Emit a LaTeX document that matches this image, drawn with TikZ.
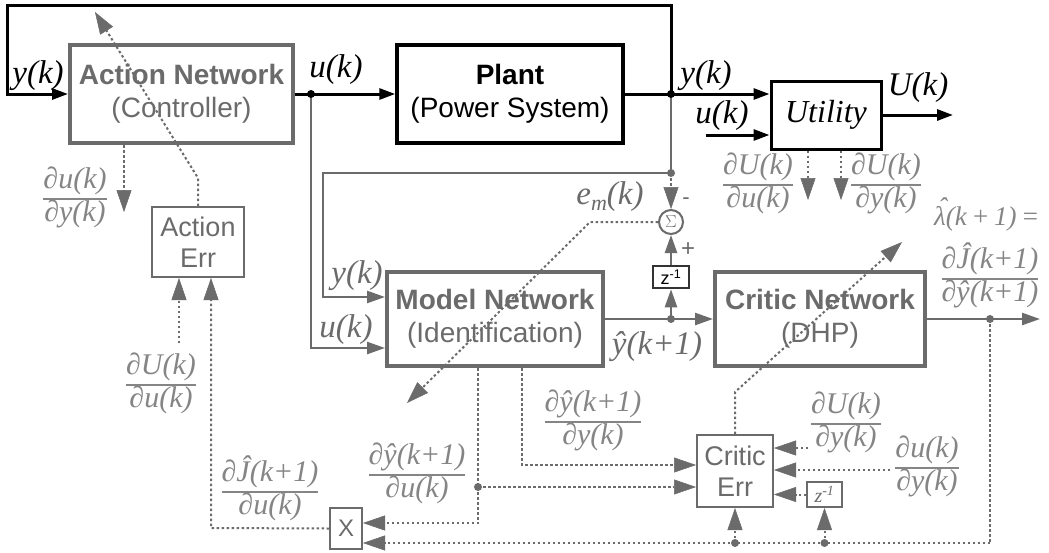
\documentclass[tikz,border=0pt]{standalone}
\usepackage{fontspec}
\setmainfont{Liberation Sans}
\newfontfamily\tms{Liberation Serif}
\usetikzlibrary{arrows.meta}
\definecolor{gt}{gray}{0.42}
\definecolor{gl}{gray}{0.52}
\newcommand{\bigf}{\fontsize{28}{33}\selectfont}
\newcommand{\lab}{\tms\itshape\fontsize{33}{36}\selectfont}
\newcommand{\fr}[2]{{\setlength{\tabcolsep}{0pt}\setlength{\arrayrulewidth}{1.5pt}\renewcommand{\arraystretch}{0.92}\begin{tabular}{c}#1\\\hline #2\end{tabular}}}
\tikzset{
  net/.style={draw=gt, line width=4pt, text=gt, inner sep=0, align=center, font=\bigf},
  blkbox/.style={draw=black, line width=3.5pt, inner sep=0, align=center, font=\bigf},
  errbox/.style={draw=gt, line width=2pt, inner sep=0, align=center, text=gt, font=\fontsize{27}{31}\selectfont},
  bl/.style={draw=black, line width=3pt},
  gline/.style={draw=gt, line width=2.5pt},
  dl/.style={draw=gt, line width=2pt, dash pattern=on 2.5pt off 2.5pt},
  barr/.style={-{Triangle[length=16pt,width=11pt]}},
  garr/.style={-{Triangle[length=18pt,width=12pt]}},
  darr/.style={-{Triangle[length=22pt,width=15pt,line width=0.5pt,fill=gt]}},
  lbl/.style={font=\lab, inner sep=0},
  glbl/.style={lbl, text=gt},
  frl/.style={font=\tms\itshape\fontsize{30}{34}\selectfont, text=gl, inner sep=0},
  gdot/.style={circle, fill=gt, inner sep=0, minimum size=8pt},
  bdot/.style={circle, fill=black, inner sep=0, minimum size=8pt},
}
\begin{document}
\begin{tikzpicture}[x=1pt,y=-1pt]
\useasboundingbox[fill=white] (0,0) rectangle (1049,552);
% boxes
\node[net, minimum width=223, minimum height=98] (act) at (181.5,94) {\textbf{Action Network}\\(Controller)};
\node[blkbox, minimum width=226, minimum height=98] (plant) at (510,94) {\textbf{Plant}\\(Power System)};
\node[draw=black, line width=3pt, minimum width=110, minimum height=68, inner sep=0, font=\tms\itshape\fontsize{32}{36}\selectfont] (ut) at (826,115) {Utility};
\node[net, minimum width=216, minimum height=94] (mod) at (495,319) {\textbf{Model Network}\\(Identification)};
\node[net, minimum width=210, minimum height=94] (crit) at (820,319) {\textbf{Critic Network}\\(DHP)};
\node[errbox, minimum width=92, minimum height=70] (aerr) at (198,242) {Action\\Err};
\node[errbox, minimum width=76, minimum height=72] (cerr) at (735,471) {Critic\\Err};
\node[circle, draw=gt, line width=2pt, minimum size=24pt, inner sep=0, text=gt, font=\fontsize{17}{17}\selectfont] (sum) at (671,222) {$\Sigma$};
\node[draw=black!80, line width=2.5pt, minimum width=36, minimum height=22, inner sep=0, font=\fontsize{18}{18}\selectfont] (z1) at (671,277) {z\textsuperscript{-1}};
\node[draw=gt, line width=2pt, minimum width=35, minimum height=25, inner sep=0, text=gt, font=\tms\itshape\fontsize{20}{20}\selectfont] (z2) at (824.5,494.5) {z\textsuperscript{-1}};
\node[draw=gt, line width=2pt, minimum width=32, minimum height=41, inner sep=0, text=gt, font=\fontsize{24}{24}\selectfont] (X) at (346,528.5) {X};
% coordinates
\coordinate (ju) at (311,94);
\coordinate (jy) at (671,94);
\coordinate (tr) at (671,5);
\coordinate (tl) at (7,5);
\coordinate (lm) at (7,94);
\coordinate (uin) at (706,135);
\coordinate (Uout) at (953,115);
\coordinate (jm) at (671,173);
\coordinate (ymc) at (323,173);
\coordinate (yml) at (323,297);
\coordinate (uml) at (311,348);
\coordinate (jo) at (671,319);
\coordinate (eb) at (590,222);
\coordinate (et) at (407,403);
\coordinate (jc) at (990,319);
\coordinate (cend) at (1040,319);
\coordinate (cb) at (990,543);
\coordinate (b1) at (735,543);
\coordinate (b2) at (824.5,543);
\coordinate (m1) at (478,487);
\coordinate (m1b) at (478,523);
\coordinate (m2) at (522,465);
\coordinate (c1) at (808,448);
\coordinate (c2) at (890,470);
\coordinate (cd1) at (735,392);
\coordinate (cd2) at (902,242);
\coordinate (ad1) at (198,178);
\coordinate (ad2) at (95,12);
\coordinate (adn) at (124,212);
\coordinate (ae1) at (179,343);
\coordinate (ae2) at (211,528);
\coordinate (ud1) at (808,200);
\coordinate (ud2) at (841,200);
% black loop
\draw[bl, barr] (act.east) -- (plant.west);
\draw[bl] (plant.east) -- (jy);
\draw[bl, barr] (jy) -- (jy -| ut.west);
\draw[bl, barr] (jy) -- (tr) -- (tl) -- (lm) -- (act.west);
\draw[bl, barr] (uin) -- (uin -| ut.west);
\draw[bl, barr] (ut.east) -- (Uout);
% gray solid to model
\draw[gline] (jy) -- (jm);
\draw[gline, garr] (jm) -- (ymc) -- (yml) -- (yml -| mod.west);
\draw[gline, garr] (ju) -- (uml) -- (uml -| mod.west);
\draw[gline, garr] (mod.east) -- (crit.west);
\draw[gline, garr] (jo) -- (z1.south);
\draw[gline, garr] (z1.north) -- (sum.south);
\draw[gline, garr] (crit.east) -- (cend);
% dotted
\draw[dl, darr] (jm) -- (sum.north);
\draw[dl, darr] (sum.west) -- (eb) -- (et);
\draw[dl] (jc) -- (cb);
\draw[dl, darr] (cb) -- (cb -| X.east);
\draw[dl, darr] (b1) -- (cerr.south);
\draw[dl, darr] (b2) -- (z2.south);
\draw[dl, darr] (z2.west) -- (z2.west -| cerr.east);
\draw[dl] (mod.south -| m1) -- (m1);
\draw[dl, darr] (m1) -- (m1 -| cerr.west);
\draw[dl, darr] (m1) -- (m1b) -- (m1b -| X.east);
\draw[dl, darr] (mod.south -| m2) -- (m2) -- (m2 -| cerr.west);
\draw[dl, darr] (c1) -- (c1 -| cerr.east);
\draw[dl, darr] (c2) -- (c2 -| cerr.east);
\draw[dl, darr] (cerr.north) -- (cd1) -- (cd2);
\draw[dl, darr] (aerr.north) -- (ad1) -- (ad2);
\draw[dl, darr] (act.south -| adn) -- (adn);
\draw[dl, darr] (ae1) -- (ae1 |- aerr.south);
\draw[dl, darr] (X.west) -- (ae2) -- (ae2 |- aerr.south);
\draw[dl, darr] (ut.south -| ud1) -- (ud1);
\draw[dl, darr] (ut.south -| ud2) -- (ud2);
% dots
\node[bdot] (dju) at (ju) {};
\node[bdot] (djy) at (jy) {};
\node[gdot] (djm) at (jm) {};
\node[gdot] (djo) at (jo) {};
\node[gdot] (djc) at (jc) {};
\node[gdot] (dm1) at (m1) {};
\node[gdot] (db1) at (b1) {};
\node[gdot] (db2) at (b2) {};
% labels
\node[lbl] (lyk1) at (38,76) {y(k)};
\node[lbl] (luk1) at (336,70) {u(k)};
\node[lbl] (lyk2) at (706,76) {y(k)};
\node[lbl] (luk2) at (722,116) {u(k)};
\node[lbl] (lUk) at (918,88) {U(k)};
\node[font=\fontsize{22}{22}\selectfont, text=gt] (lminus) at (686,201) {-};
\node[font=\fontsize{24}{24}\selectfont, text=gt] (lplus) at (688,250) {+};
\node[glbl] (lyk3) at (357,276) {y(k)};
\node[glbl] (luk3) at (346,330) {u(k)};
\node[glbl] (lem) at (610,197) {e\raisebox{-6pt}{\fontsize{22}{22}\selectfont m}(k)};
\node[glbl] (lyh) at (657,347) {ŷ(k+1)};
\node[frl] (f1) at (758,185) {\fr{∂U(k)}{∂u(k)}};
\node[frl] (f2) at (886,185) {\fr{∂U(k)}{∂y(k)}};
\node[frl] (f3) at (75,199) {\fr{∂u(k)}{∂y(k)}};
\node[frl] (f4) at (161,385) {\fr{∂U(k)}{∂u(k)}};
\node[frl] (f5) at (270,490) {\fr{∂Ĵ(k+1)}{∂u(k)}};
\node[frl] (f6) at (417,475) {\fr{∂ŷ(k+1)}{∂u(k)}};
\node[frl] (f7) at (593,422) {\fr{∂ŷ(k+1)}{∂y(k)}};
\node[frl] (f8) at (846,424) {\fr{∂U(k)}{∂y(k)}};
\node[frl] (f9) at (927,468) {\fr{∂u(k)}{∂y(k)}};
\node[frl, anchor=west, font=\tms\itshape\fontsize{27}{30}\selectfont] (llam) at (934,214) {\rlap{\kern4pt\raisebox{9pt}{ˆ}}λ(k\,+\,1)\,=};
\node[frl] (f10) at (990,277) {\fr{∂Ĵ(k+1)}{∂ŷ(k+1)}};
\end{tikzpicture}
\end{document}
